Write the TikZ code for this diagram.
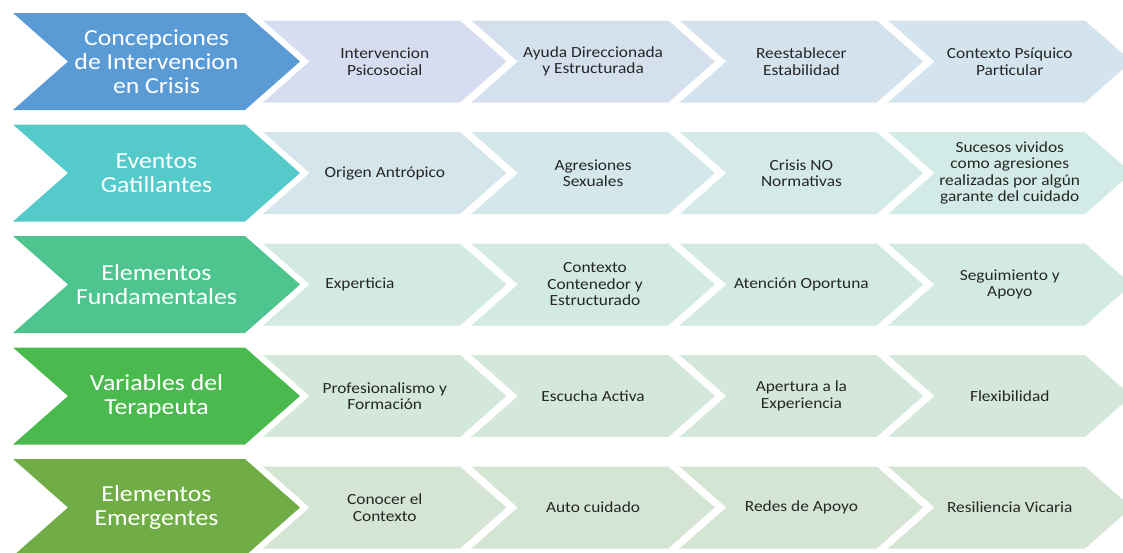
\documentclass[tikz,border=0pt]{standalone}
\usepackage{fontspec}
\setmainfont[FakeStretch=1.12]{Carlito}
\definecolor{bA}{HTML}{5B9BD5}
\definecolor{bB}{HTML}{55CACB}
\definecolor{bC}{HTML}{4EC48F}
\definecolor{bD}{HTML}{4BBA4E}
\definecolor{bE}{HTML}{70AD47}
\definecolor{sA1}{HTML}{D7DDF0}
\definecolor{sA2}{HTML}{D5E0EF}
\definecolor{sA3}{HTML}{D4E2EE}
\definecolor{sA4}{HTML}{D4E4EE}
\definecolor{sB1}{HTML}{D4E6EC}
\definecolor{sB2}{HTML}{D4E8EB}
\definecolor{sB3}{HTML}{D3EAE9}
\definecolor{sB4}{HTML}{D3EBE6}
\definecolor{sC}{HTML}{D3EAE4}
\definecolor{sD}{HTML}{D3E7DA}
\definecolor{sE}{HTML}{D5E5D3}
\definecolor{txtc}{HTML}{262626}
\newcommand\mybigchev[2]{\fill[#2] (13,#1) -- ++(232,0) -- ++(55,48.5) -- ++(-55,48.5) -- ++(-232,0) -- ++(55,-48.5) -- cycle;}
\newcommand\mysmallchev[3]{\fill[#3] (#1,#2) -- ++(197,0) -- ++(46.5,41) -- ++(-46.5,41) -- ++(-197,0) -- ++(46.5,-41) -- cycle;}
\begin{document}
\begin{tikzpicture}[x=1pt,y=-1pt,
  bigtxt/.style={text=white,font=\fontsize{23}{24}\selectfont,align=center,inner sep=0pt},
  smalltxt/.style={text=txtc,font=\fontsize{15.5}{16.5}\selectfont,align=center,inner sep=0pt}]
\useasboundingbox (0,0) rectangle (1123,552);
\clip (0,0) rectangle (1123,552);
% row 1
\mybigchev{13}{bA}
\mysmallchev{263}{20.5}{sA1}
\mysmallchev{471.33}{20.5}{sA2}
\mysmallchev{679.67}{20.5}{sA3}
\mysmallchev{888}{20.5}{sA4}
\node[bigtxt] (h1) at (156.5,61.5) {Concepciones\\de Intervencion\\en Crisis};
\node[smalltxt] (a11) at (384.75,61.5) {Intervencion\\Psicosocial};
\node[smalltxt] (a12) at (593.08,61.5) {Ayuda Direccionada\\y Estructurada};
\node[smalltxt] (a13) at (801.42,61.5) {Reestablecer\\Estabilidad};
\node[smalltxt] (a14) at (1009.75,61.5) {Contexto Psíquico\\Particular};
% row 2
\mybigchev{124.5}{bB}
\mysmallchev{263}{132}{sB1}
\mysmallchev{471.33}{132}{sB2}
\mysmallchev{679.67}{132}{sB3}
\mysmallchev{888}{132}{sB4}
\node[bigtxt] (h2) at (156.5,173) {Eventos\\Gatillantes};
\node[smalltxt] (a21) at (384.75,173) {Origen Antrópico};
\node[smalltxt] (a22) at (593.08,173) {Agresiones\\Sexuales};
\node[smalltxt] (a23) at (801.42,173) {Crisis NO\\Normativas};
\node[smalltxt] (a24) at (1009.75,173) {Sucesos vividos\\como agresiones\\realizadas por algún\\garante del cuidado};
% row 3
\mybigchev{236}{bC}
\mysmallchev{263}{243.5}{sC}
\mysmallchev{471.33}{243.5}{sC}
\mysmallchev{679.67}{243.5}{sC}
\mysmallchev{888}{243.5}{sC}
\node[bigtxt] (h3) at (156.5,284.5) {Elementos\\Fundamentales};
\node[smalltxt] (a31) at (360,284.5) {Experticia};
\node[smalltxt] (a32) at (595,284.5) {Contexto\\Contenedor y\\Estructurado};
\node[smalltxt] (a33) at (801.42,284.5) {Atención Oportuna};
\node[smalltxt] (a34) at (1009.75,284.5) {Seguimiento y\\Apoyo};
% row 4
\mybigchev{347.5}{bD}
\mysmallchev{263}{355}{sD}
\mysmallchev{471.33}{355}{sD}
\mysmallchev{679.67}{355}{sD}
\mysmallchev{888}{355}{sD}
\node[bigtxt] (h4) at (156.5,396) {Variables del\\Terapeuta};
\node[smalltxt] (a41) at (384.75,396) {Profesionalismo y\\Formación};
\node[smalltxt] (a42) at (593.08,396) {Escucha Activa};
\node[smalltxt] (a43) at (801.42,396) {Apertura a la\\Experiencia};
\node[smalltxt] (a44) at (1009.75,396) {Flexibilidad};
% row 5
\mybigchev{459}{bE}
\mysmallchev{263}{466.5}{sE}
\mysmallchev{471.33}{466.5}{sE}
\mysmallchev{679.67}{466.5}{sE}
\mysmallchev{888}{466.5}{sE}
\node[bigtxt] (h5) at (156.5,507.5) {Elementos\\Emergentes};
\node[smalltxt] (a51) at (384.75,507.5) {Conocer el\\Contexto};
\node[smalltxt] (a52) at (593.08,507.5) {Auto cuidado};
\node[smalltxt] (a53) at (801.42,507.5) {Redes de Apoyo};
\node[smalltxt] (a54) at (1009.75,507.5) {Resiliencia Vicaria};
\end{tikzpicture}
\end{document}
